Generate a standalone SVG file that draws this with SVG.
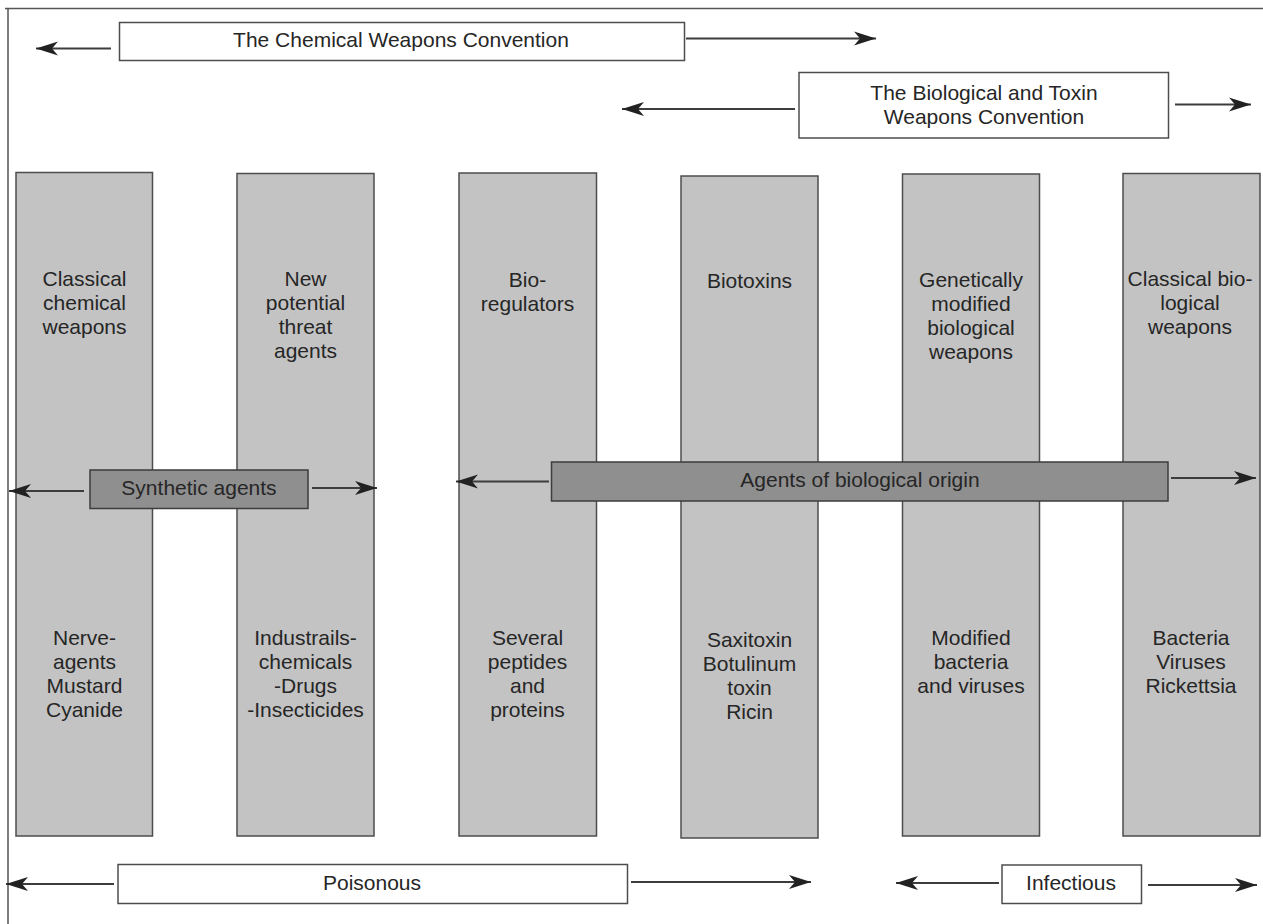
<svg xmlns="http://www.w3.org/2000/svg" width="1263" height="924" viewBox="0 0 1263 924">
<style>
text{font-family:"Liberation Sans",Arial,Helvetica,sans-serif;font-size:21px;fill:#262626;text-anchor:middle}
.col{fill:#c3c3c3;stroke:#4d4d4d;stroke-width:1.5}
.band{fill:#8f8f8f;stroke:#3d3d3d;stroke-width:1.5}
.lbl{fill:#fff;stroke:#4d4d4d;stroke-width:1.5}
.arr{stroke:#3d3d3d;stroke-width:1.8;fill:none;marker-end:url(#ah)}
.frame{stroke:#555;stroke-width:1.5;fill:none}
</style>
<defs>
<marker id="ah" markerUnits="userSpaceOnUse" markerWidth="23" markerHeight="15" refX="22" refY="7.5" orient="auto">
<path d="M0,0.5 L22,7.5 L0,14.5 L6,7.5 Z" fill="#222"/>
</marker>
</defs>
<rect width="1263" height="924" fill="#fff"/>
<g id="frame"><path class="frame" d="M5,8.5 H1263 M8,8.5 V924"/></g>

<g id="col1"><rect class="col" x="16" y="172.5" width="136.5" height="663.5"/>
<text x="84.5" y="286">Classical</text><text x="84.5" y="310">chemical</text><text x="84.5" y="334">weapons</text>
<text x="84.5" y="645">Nerve-</text><text x="84.5" y="669">agents</text><text x="84.5" y="693">Mustard</text><text x="84.5" y="717">Cyanide</text></g>

<g id="col2"><rect class="col" x="237" y="173.5" width="137" height="662.5"/>
<text x="305.5" y="286">New</text><text x="305.5" y="310">potential</text><text x="305.5" y="334">threat</text><text x="305.5" y="358">agents</text>
<text x="305.5" y="645">Industrails-</text><text x="305.5" y="669">chemicals</text><text x="305.5" y="693">-Drugs</text><text x="305.5" y="717">-Insecticides</text></g>

<g id="col3"><rect class="col" x="459" y="173" width="137.5" height="663"/>
<text x="527.5" y="287">Bio-</text><text x="527.5" y="311">regulators</text>
<text x="527.5" y="645">Several</text><text x="527.5" y="669">peptides</text><text x="527.5" y="693">and</text><text x="527.5" y="717">proteins</text></g>

<g id="col4"><rect class="col" x="681" y="176" width="137" height="662"/>
<text x="749.5" y="288">Biotoxins</text>
<text x="749.5" y="647">Saxitoxin</text><text x="749.5" y="671">Botulinum</text><text x="749.5" y="695">toxin</text><text x="749.5" y="719">Ricin</text></g>

<g id="col5"><rect class="col" x="902.5" y="174" width="137" height="662"/>
<text x="971" y="287">Genetically</text><text x="971" y="311">modified</text><text x="971" y="335">biological</text><text x="971" y="359">weapons</text>
<text x="971" y="645">Modified</text><text x="971" y="669">bacteria</text><text x="971" y="693">and viruses</text></g>

<g id="col6"><rect class="col" x="1123" y="173.5" width="137" height="662.5"/>
<text x="1190" y="286">Classical bio-</text><text x="1190" y="310">logical</text><text x="1190" y="334">weapons</text>
<text x="1191" y="645">Bacteria</text><text x="1191" y="669">Viruses</text><text x="1191" y="693">Rickettsia</text></g>

<g id="connectors">
<line class="arr" x1="111" y1="48.5" x2="36" y2="48.5"/>
<line class="arr" x1="686" y1="38.5" x2="876" y2="38.5"/>
<line class="arr" x1="795" y1="109" x2="622" y2="109"/>
<line class="arr" x1="1175" y1="104.5" x2="1251" y2="104.5"/>
<line class="arr" x1="84" y1="491" x2="9" y2="491"/>
<line class="arr" x1="312" y1="488" x2="377" y2="488"/>
<line class="arr" x1="549" y1="481.5" x2="456" y2="481.5"/>
<line class="arr" x1="1171" y1="478" x2="1256" y2="478"/>
<line class="arr" x1="114" y1="884" x2="6" y2="884"/>
<line class="arr" x1="631" y1="882" x2="811" y2="882"/>
<line class="arr" x1="999" y1="883" x2="896" y2="883"/>
<line class="arr" x1="1148" y1="885" x2="1257" y2="885"/>
</g>

<g id="cwc"><rect class="lbl" x="119.5" y="22.5" width="565" height="38"/>
<text x="401" y="47">The Chemical Weapons Convention</text></g>

<g id="btwc"><rect class="lbl" x="799" y="72.5" width="369.5" height="65.5"/>
<text x="984" y="100">The Biological and Toxin</text><text x="984" y="123.5">Weapons Convention</text></g>

<g id="synthetic"><rect class="band" x="90" y="470" width="218" height="38.5"/>
<text x="199" y="495">Synthetic agents</text></g>

<g id="biological-origin"><rect class="band" x="551.5" y="462" width="616.5" height="39"/>
<text x="860" y="487">Agents of biological origin</text></g>

<g id="poisonous"><rect class="lbl" x="118" y="864.5" width="509.5" height="39"/>
<text x="372" y="890">Poisonous</text></g>

<g id="infectious"><rect class="lbl" x="1002" y="865" width="139.5" height="38.5"/>
<text x="1071" y="890">Infectious</text></g>
</svg>
